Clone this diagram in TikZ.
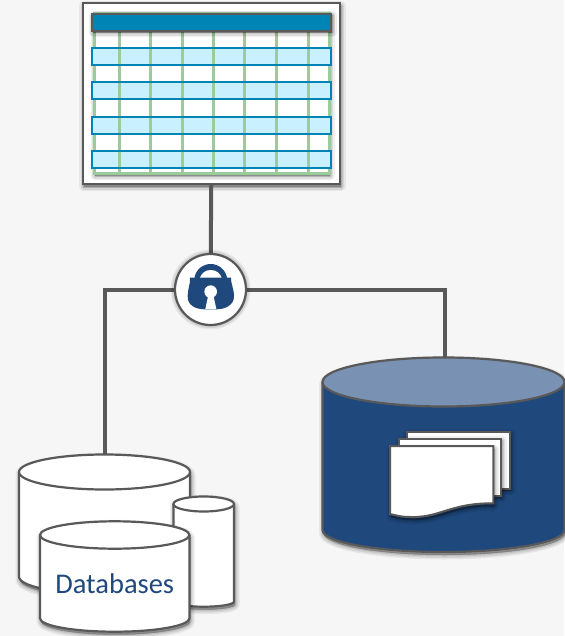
\documentclass[tikz,border=0pt]{standalone}
\usepackage{fontspec}
\setmainfont{Carlito}
\definecolor{bgc}{HTML}{F6F6F6}
\definecolor{linec}{HTML}{595959}
\definecolor{navy}{HTML}{1F497D}
\definecolor{navytop}{HTML}{7992B4}
\definecolor{teal}{HTML}{0083B5}
\definecolor{pale}{HTML}{C9F0FF}
\definecolor{gridg}{HTML}{9CCB9B}
\newcommand{\softshadow}[2][3]{%
  \foreach \w/\o in {9/0.06,6/0.08,3/0.09,0.5/0.10}{%
    \path[fill=black,draw=black,opacity=\o,line width=\w pt,line join=round,yshift=-#1pt,xshift=1pt] #2;}}
\newcommand{\cyl}[7]{%
  \coordinate (#7) at (#1,#2-#4);
  \softshadow{(#1-#3,#2) -- (#1-#3,#5) arc[start angle=180,end angle=360,x radius=#3,y radius=-#6] -- (#1+#3,#2) arc[start angle=0,end angle=180,x radius=#3,y radius=-#4] -- cycle}
  \path[cylbody] (#1-#3,#2) -- (#1-#3,#5) arc[start angle=180,end angle=360,x radius=#3,y radius=-#6] -- (#1+#3,#2);
  \path[cyltop] (#1,#2) ellipse[x radius=#3,y radius=#4];
}
\tikzset{
  x=1pt,y=-1pt,
  wire/.style={draw=linec,line width=4pt,line join=miter},
  cylbody/.style={draw=linec,line width=2.2pt,fill=white},
  cyltop/.style={draw=linec,line width=2.2pt,fill=white},
  navybody/.style={cylbody/.style={draw=linec,line width=2.2pt,fill=navy},cyltop/.style={draw=linec,line width=2.2pt,fill=navytop}},
  framebox/.style={draw=linec,line width=2pt,fill=white,minimum width=257pt,minimum height=181pt,inner sep=0pt},
  lockdisc/.style={circle,draw=linec,line width=2.2pt,fill=white,minimum size=71pt,inner sep=0pt},
  gridline/.style={draw=gridg,line width=3pt},
  headbar/.style={draw=linec,line width=2.2pt,fill=teal},
  rowbar/.style={draw=teal,line width=2.2pt,fill=pale},
  sheet/.style={draw=linec,line width=2pt,fill=white,line join=miter},
  dblabel/.style={text=navy,font=\fontsize{28.5}{32}\selectfont,inner sep=0pt},
}
\begin{document}
\begin{tikzpicture}
\useasboundingbox[fill=bgc] (0,0) rectangle (564,636);
% table frame
\softshadow{(82.5,3) rectangle (340,184)}
\node[framebox] (frame) at (211.25,93.5) {};
\softshadow[2]{(94,14) rectangle (329.3,174)}
\fill[white] (94,14) rectangle (329.3,174);
\draw[gridline] (94,14) rectangle (329.3,174);
\foreach \x in {119,150.3,182,213.3,244.7,276.3,308}{\draw[gridline] (\x,14) -- (\x,174);}
\softshadow[2]{(92.3,13.7) rectangle (331,30.7)}
\path[headbar] (92.3,13.7) rectangle (331,30.7);
\foreach \y in {48,82.3,116.7,151}{
  \path[rowbar] (92.3,\y) rectangle (331,\y+17);
}
\foreach \x in {119,150.3,182,213.3,244.7,276.3,308}{\draw[gridline] (\x,49.1) -- (\x,63.9) (\x,83.4) -- (\x,98.2) (\x,117.8) -- (\x,132.6) (\x,152.1) -- (\x,166.9);}
\foreach \y in {48,82.3,116.7,151}{
  \draw[draw=teal,line width=2.2pt] (92.3,\y) rectangle (331,\y+17);
}
% anchors of the connectors
\coordinate (lockc) at (210.5,289.5);
\coordinate (bendl) at (105,289.5);
\coordinate (bendr) at (445,289.5);
\coordinate (dbtop) at (105,456);
\coordinate (repotop) at (445,359);
\draw[wire] (frame.south) -- (lockc);
\draw[wire] (dbtop) -- (bendl) -- (bendr) -- (repotop);
% lock
\softshadow{(lockc) circle[radius=35.5]}
\node[lockdisc] (lock) at (lockc) {};
\begin{scope}[shift={(160,240)},x=0.3333pt,y=-0.3333pt]
  \fill[navy] (90,113) -- (213,113) .. controls (212,130) and (222,145) .. (222,170) .. controls (222,195) and (195,208) .. (170,208) -- (135,208) .. controls (105,208) and (83,195) .. (83,170) .. controls (83,145) and (92,130) .. (90,113) -- cycle;
  \fill[navy] (103,118) .. controls (105,88) and (130,72) .. (152,72) .. controls (175,72) and (198,88) .. (202,118) -- cycle;
  \fill[white] (120,113) .. controls (125,100) and (135,90) .. (152,90) .. controls (170,90) and (180,100) .. (185,113) -- cycle;
  \fill[white] (152,155) circle[radius=19];
  \fill[white] (145,165) -- (136,207) -- (169,207) -- (160,165) -- cycle;
\end{scope}
% repository cylinder
\begin{scope}[navybody]
\cyl{443.5}{382}{121}{24.5}{530}{22}{repo}
\end{scope}
% sheets
\softshadow[2]{(406.7,431.7) rectangle (510,488.7)}
\path[sheet] (406.7,431.7) rectangle (510,488.7);
\softshadow[2]{(398.7,438.7) rectangle (501.3,496)}
\path[sheet] (398.7,438.7) rectangle (501.3,496);
\softshadow[3]{(390,446) -- (493.3,446) -- (493.3,503.3) .. controls (450,503) and (440,518) .. (410,517) .. controls (400,517) and (395,515) .. (390,514) -- cycle}
\path[sheet] (390,446) -- (493.3,446) -- (493.3,503.3) .. controls (450,503) and (440,518) .. (410,517) .. controls (400,517) and (395,515) .. (390,514) -- cycle;
% databases
\cyl{104.5}{472}{85.5}{17.5}{576.7}{17.5}{dbbig}
\cyl{203.7}{504}{30.3}{7.5}{601.7}{5}{dbsmall}
\cyl{114.7}{535}{74.7}{13.7}{618.3}{13.4}{dbfront}
\node[dblabel] (dblab) at (114.7,584) {Databases};
\end{tikzpicture}
\end{document}
